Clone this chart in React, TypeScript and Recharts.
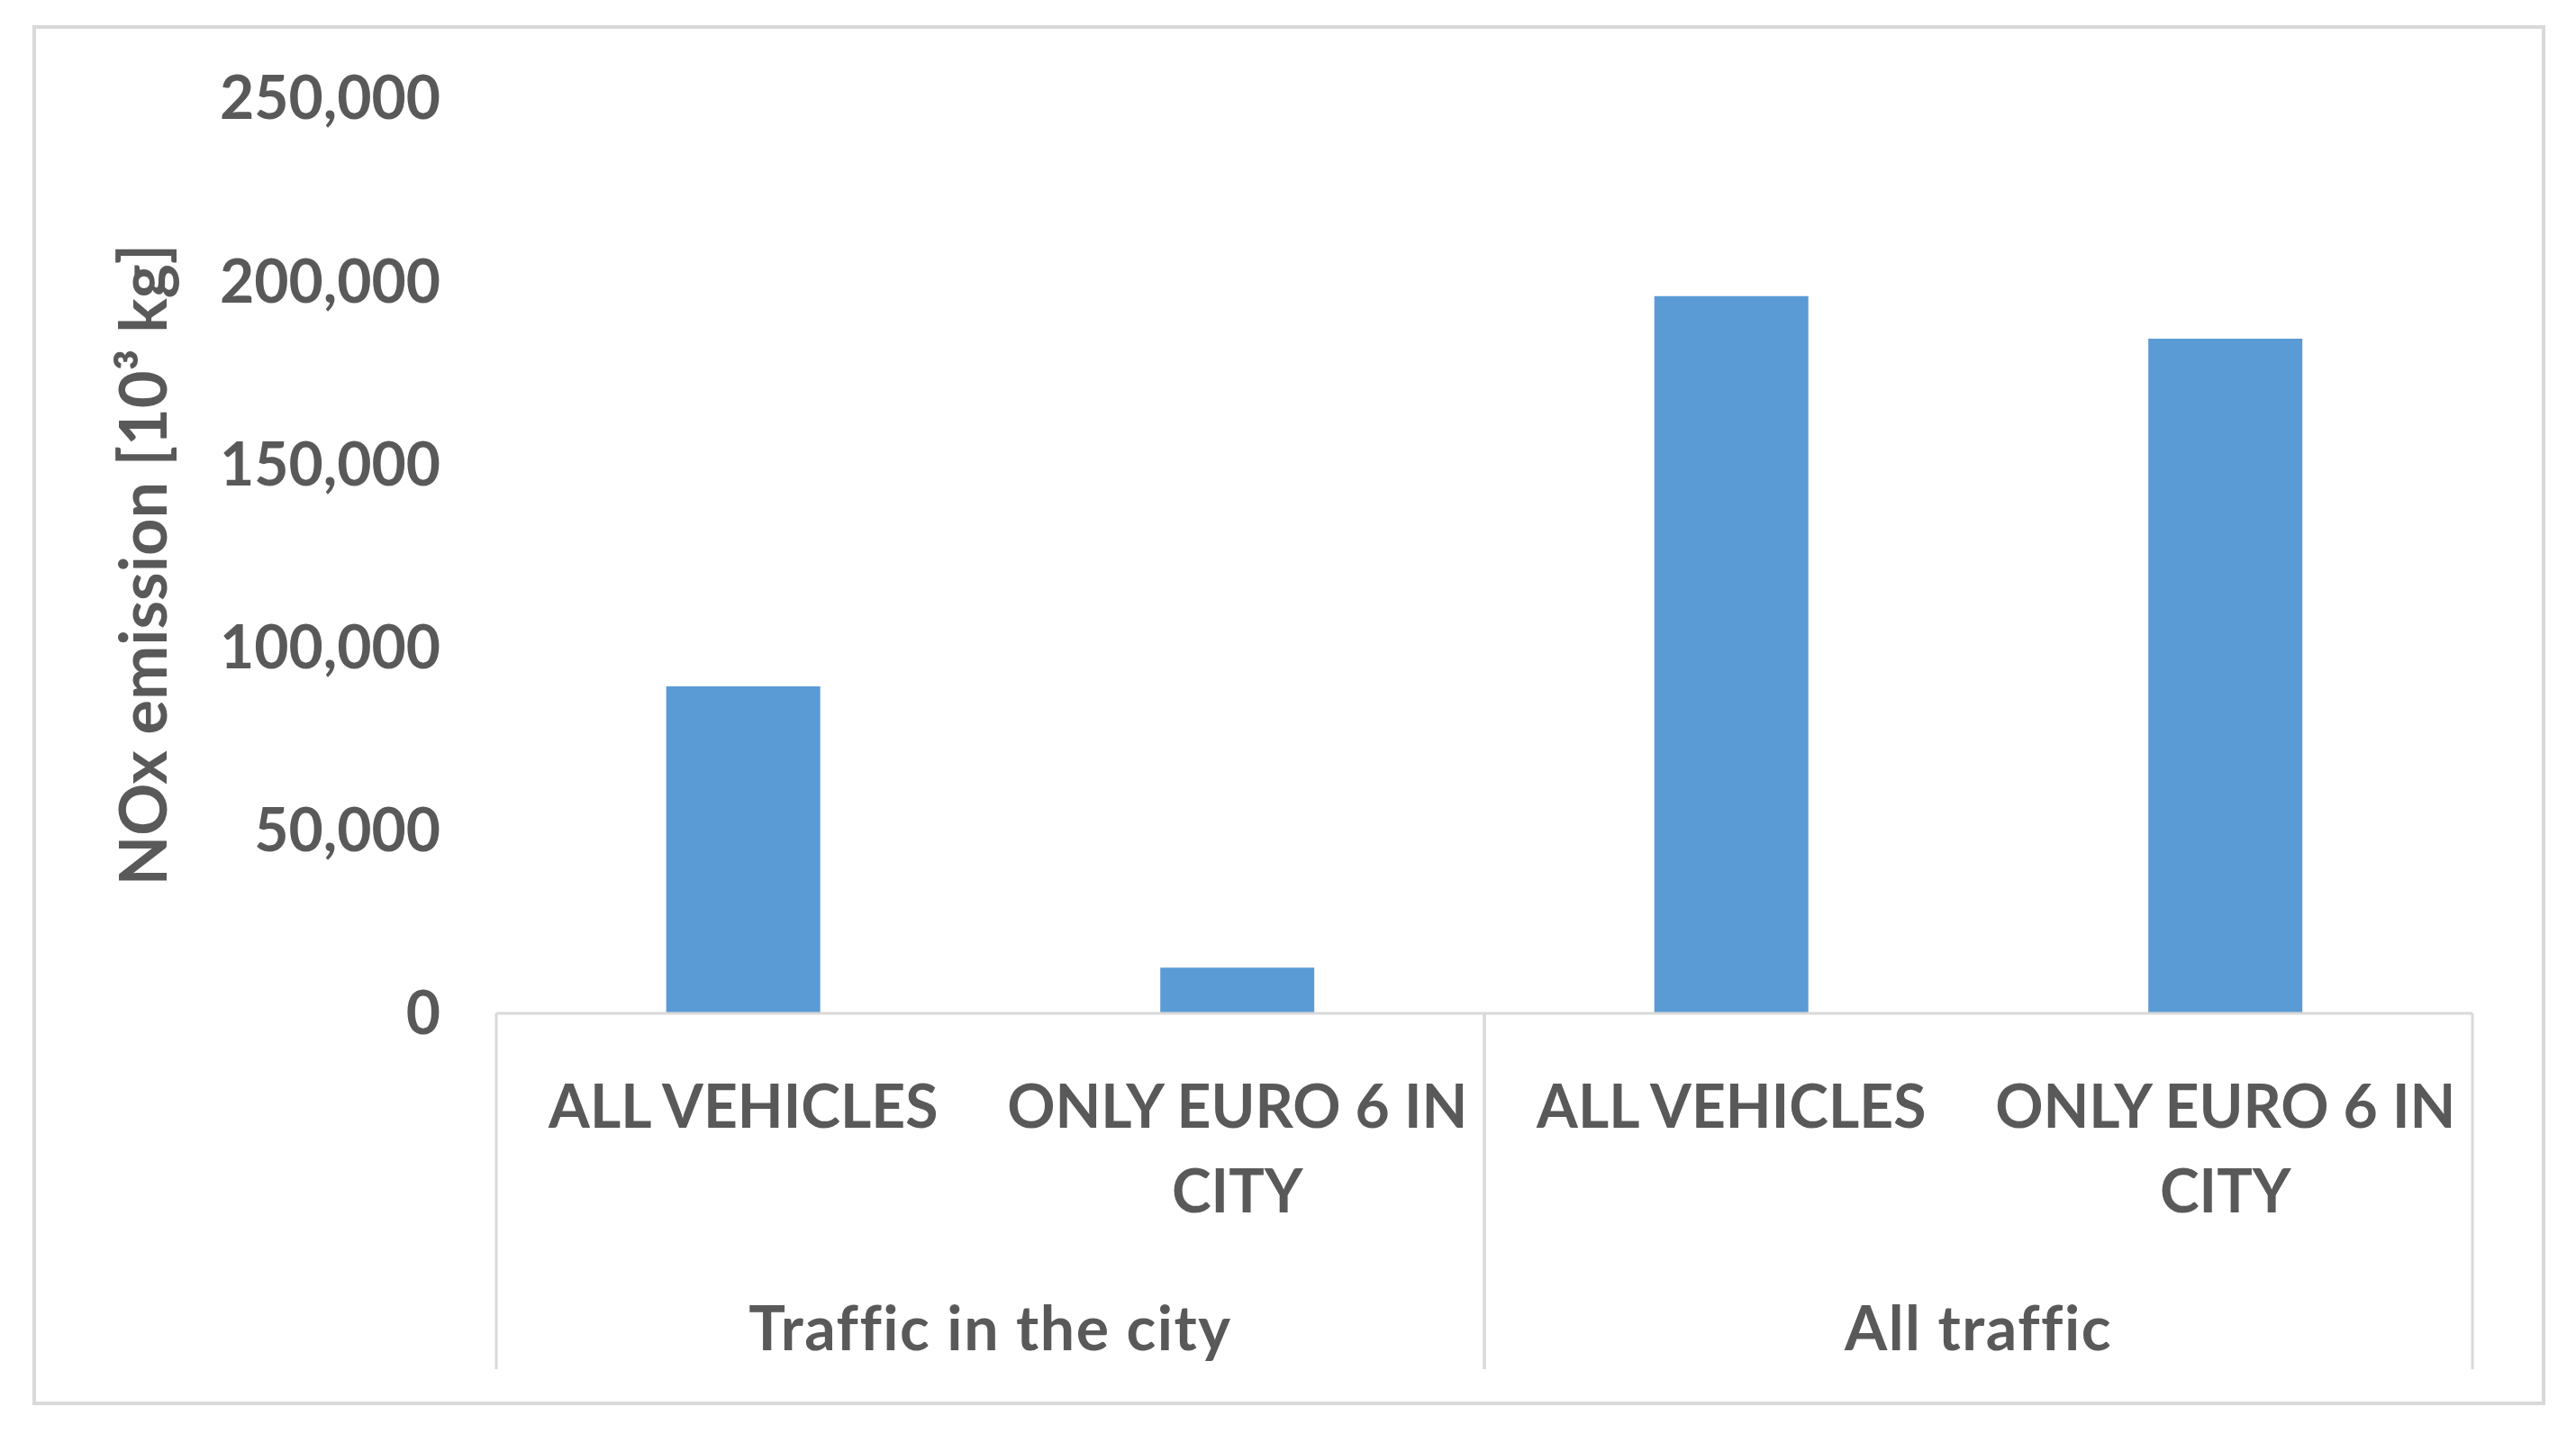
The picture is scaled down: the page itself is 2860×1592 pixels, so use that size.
import { BarChart, Bar, XAxis, YAxis, Label } from 'recharts';

// values (10^3 kg)
const categories = ['ALL VEHICLES', 'ONLY EURO 6 IN CITY', 'ALL VEHICLES', 'ONLY EURO 6 IN CITY'];
const categoryLines = [['ALL VEHICLES'], ['ONLY EURO 6 IN', 'CITY'], ['ALL VEHICLES'], ['ONLY EURO 6 IN', 'CITY']];
const groups = ['Traffic in the city', 'Traffic in the city', 'All traffic', 'All traffic'];
const emissions = [89300, 12500, 195900, 184300];
const yTicks = [0, 50000, 100000, 150000, 200000, 250000];

const data = categories.map((name, i) => ({ name, group: groups[i], nox: emissions[i] }));

const FONT = 'Lato, "Open Sans", sans-serif';
const TEXT = '#595959';
const LINE = '#d9d9d9';
const CAT_H = 300;
const GROUP_H = 140;

const CatTick = (props: any) => {
    const { x, y, payload } = props;
    const lines = categoryLines[payload.index] ?? [String(payload.value)];
    return (
        <g>
            {lines.map((l, i) => (
                <text key={i} x={x} y={y + 101 + i * 94} textAnchor="middle" dominantBaseline="central"
                    fill={TEXT} fontSize={66} fontWeight={700} fontFamily={FONT}>{l}</text>
            ))}
        </g>
    );
};

const GroupTick = (props: any) => {
    const { x, y, payload } = props;
    const half = payload.offset ?? 0;
    const top = y - CAT_H;
    return (
        <g>
            <line x1={x - half} x2={x - half} y1={top} y2={top + 395} stroke={LINE} strokeWidth={3} />
            <line x1={x + half} x2={x + half} y1={top} y2={top + 395} stroke={LINE} strokeWidth={3} />
            <text x={x} y={y + 47} textAnchor="middle" dominantBaseline="central"
                fill={TEXT} fontSize={68} fontWeight={700} fontFamily={FONT}
                style={{ fontVariantLigatures: 'none', letterSpacing: 1.5 }}>{payload.value}</text>
        </g>
    );
};

export default function App() {
    return (
        <div style={{ position: 'absolute', left: 0, top: 0, width: 2860, height: 1592, background: '#fff' }}>
            <div style={{
                position: 'absolute', left: 36, top: 28, width: 2790, height: 1532,
                border: `4px solid ${LINE}`, boxSizing: 'border-box'
            }} />
            <div style={{ position: 'absolute', left: 0, top: 0 }}>
                <BarChart width={2860} height={1592} data={data}
                    margin={{ top: 109, right: 115, bottom: 1592 - 1125 - CAT_H - GROUP_H, left: 0 }}
                    barCategoryGap="34.4%">
                    <XAxis xAxisId="cat" dataKey="name" height={CAT_H} interval={0}
                        axisLine={{ stroke: LINE, strokeWidth: 3 }} tickLine={false}
                        tickSize={0} tickMargin={0} tick={<CatTick />} />
                    <XAxis xAxisId="group" dataKey="group" height={GROUP_H} allowDuplicatedCategory={false}
                        axisLine={false} tickLine={false} tickSize={0} tickMargin={0} interval={0}
                        tick={<GroupTick />} />
                    <YAxis width={551} domain={[0, 250000]} ticks={yTicks} axisLine={false} tickLine={false}
                        tickSize={0} tickMargin={62} interval={0}
                        tickFormatter={(v: number) => v.toLocaleString('en-US')}
                        tick={{ fill: TEXT, fontSize: 66, fontWeight: 700, fontFamily: FONT }}>
                        <Label content={() => (
                            <text x={157} y={627} transform="rotate(-90 157 627)" textAnchor="middle"
                                dominantBaseline="central" fill={TEXT} fontSize={72} fontWeight={700}
                                fontFamily={FONT}>NOx emission [10³ kg]</text>
                        )} />
                    </YAxis>
                    <Bar xAxisId="cat" dataKey="nox" fill="#5B9BD5" isAnimationActive={false} />
                </BarChart>
            </div>
        </div>
    );
}
